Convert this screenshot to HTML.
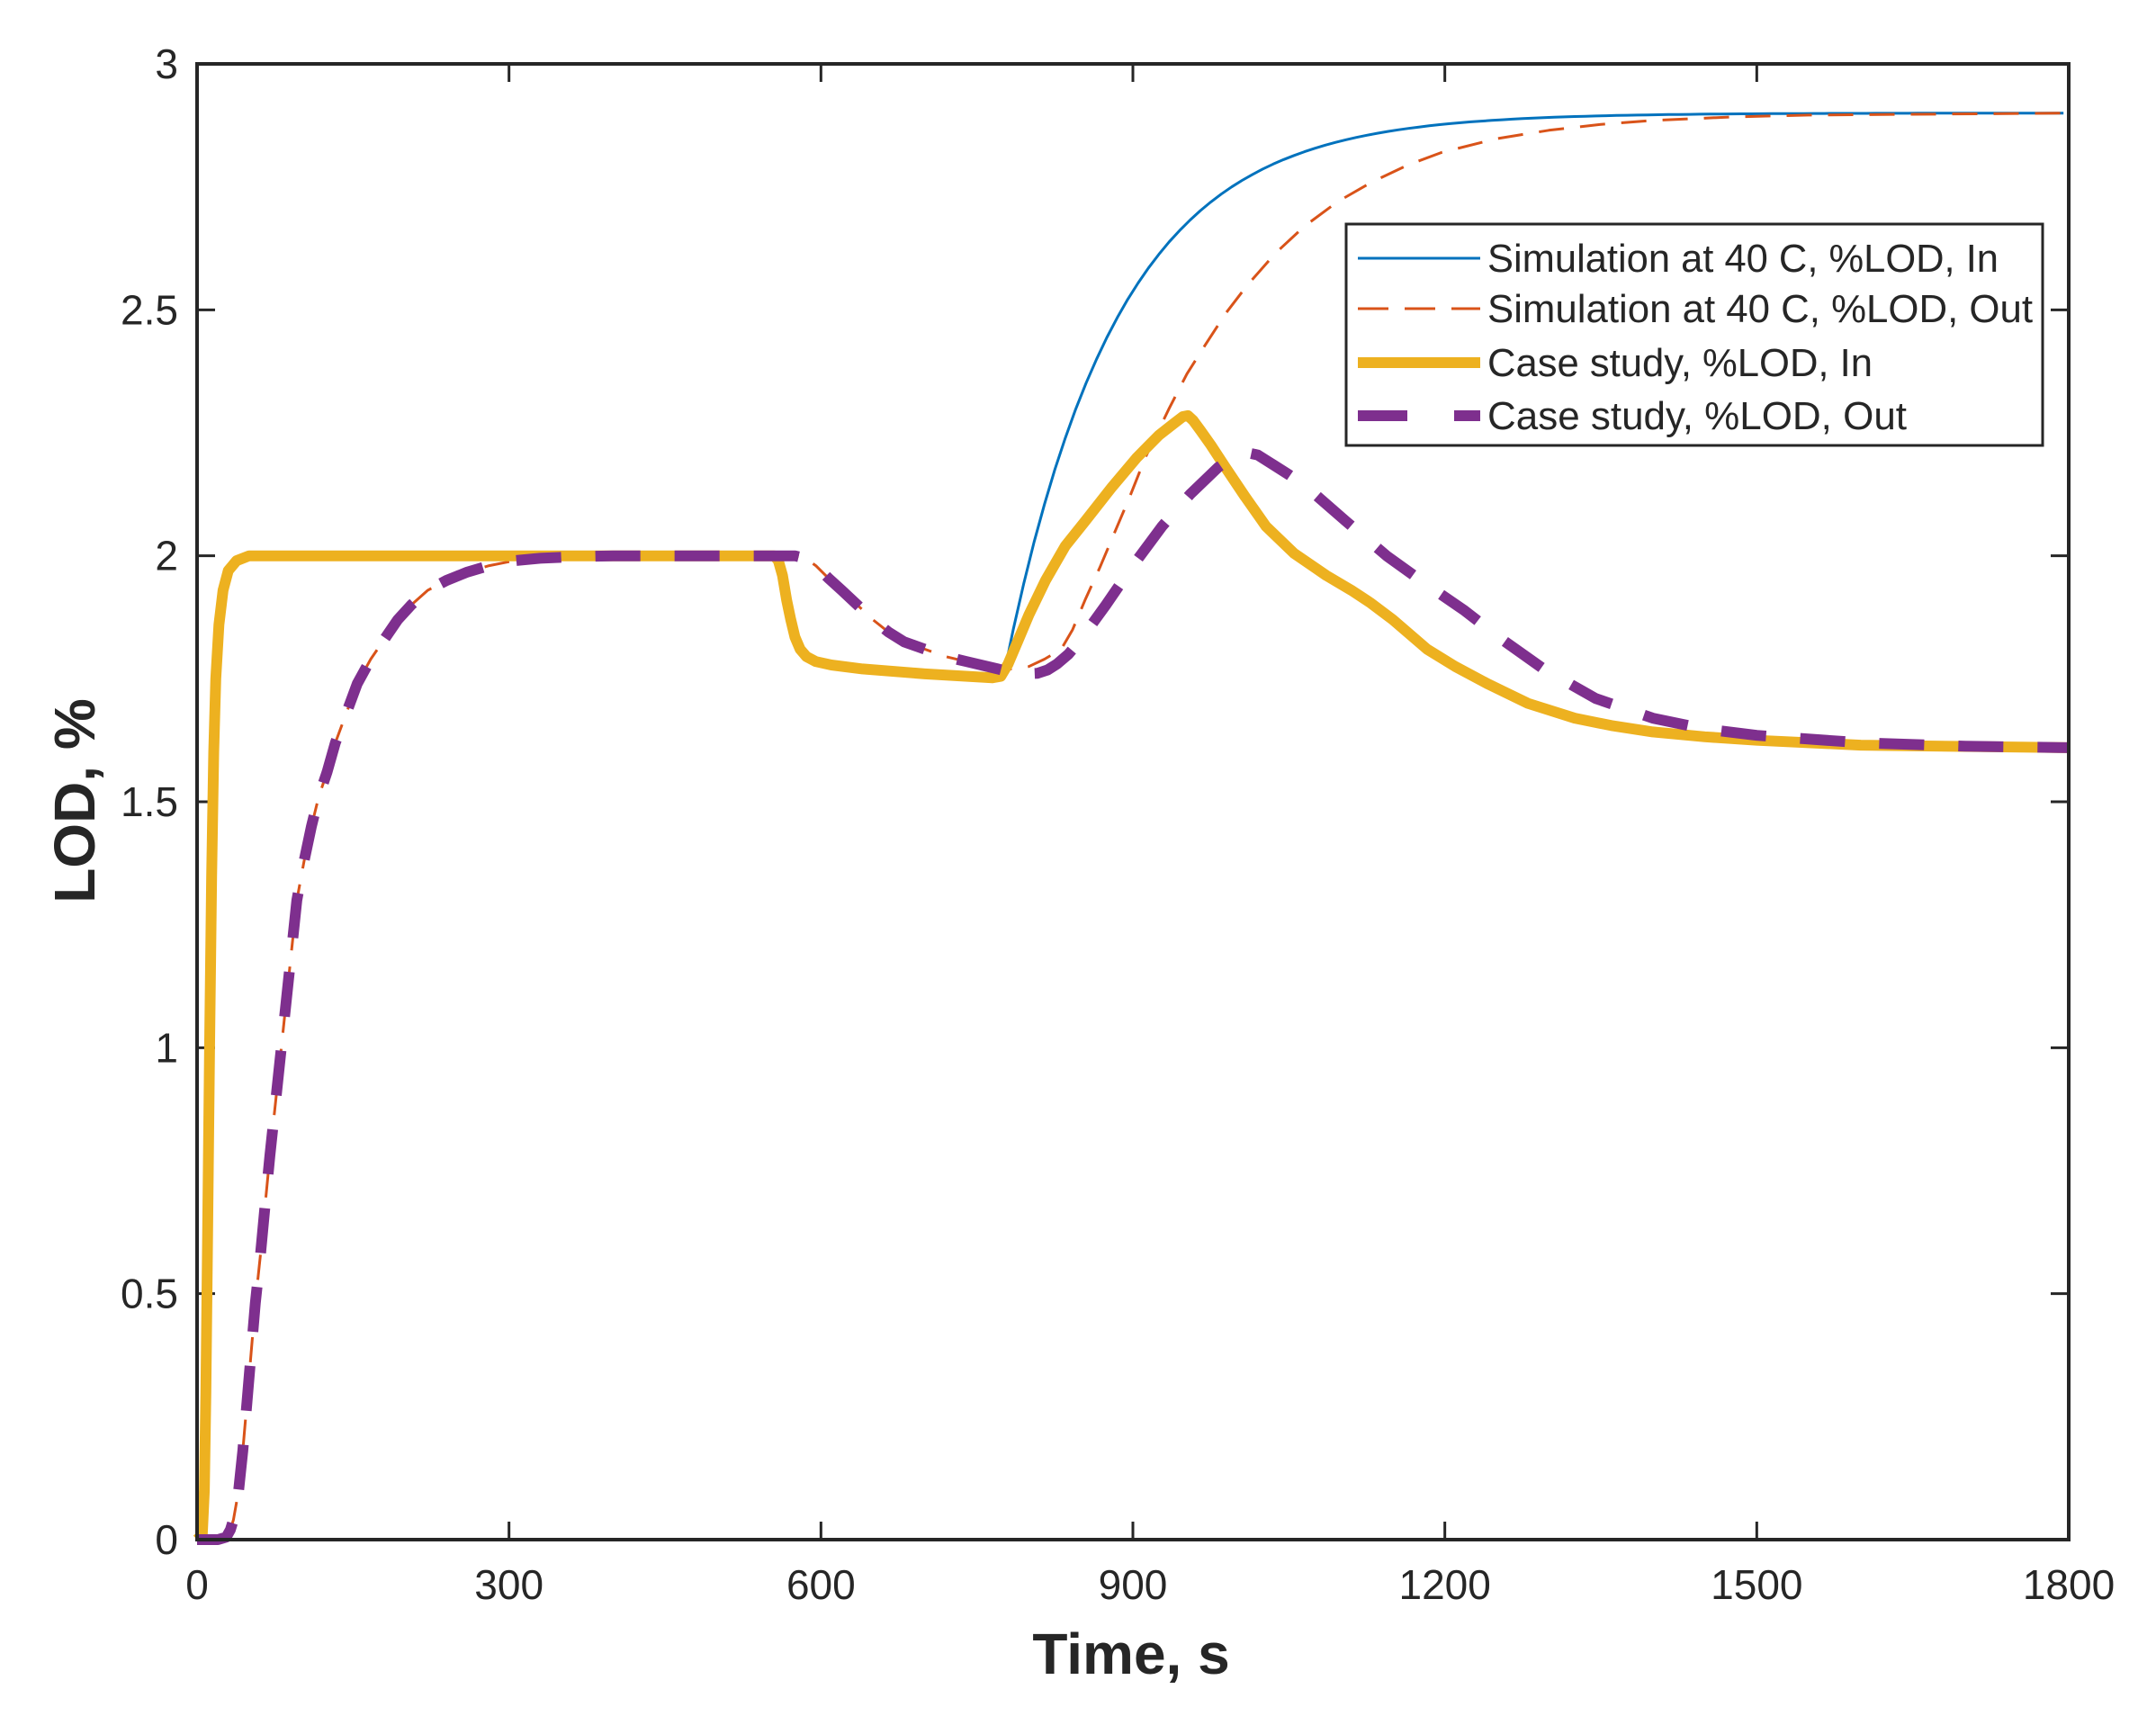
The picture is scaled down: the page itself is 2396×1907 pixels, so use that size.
<!DOCTYPE html>
<html><head><meta charset="utf-8"><style>
html,body{margin:0;padding:0;background:#fff}
svg{display:block}
text{font-family:"Liberation Sans",Arial,sans-serif;fill:#262626}
</style></head><body>
<svg id="s" width="2396" height="1907" viewBox="0 0 2396 1907" xmlns="http://www.w3.org/2000/svg">
<rect width="2396" height="1907" fill="#fff"/>
<g id="ticks" stroke="#262626" stroke-width="3"></g>
<g id="lbl" font-size="46"></g>
<g id="curves" fill="none" stroke-linejoin="round"></g>
<rect x="219" y="71" width="2080" height="1640" fill="none" stroke="#262626" stroke-width="4"/>
<text x="1257" y="1860" font-size="64" font-weight="bold" text-anchor="middle">Time, s</text>
<text transform="translate(105,890) rotate(-90)" font-size="64" font-weight="bold" text-anchor="middle">LOD, %</text>
<g>
<rect x="1496" y="249" width="774" height="246" fill="#fff" stroke="#262626" stroke-width="3"/>
<line x1="1509" y1="287" x2="1645" y2="287" stroke="#0072BD" stroke-width="3"/>
<line x1="1509" y1="343" x2="1645" y2="343" stroke="#D95319" stroke-width="3" stroke-dasharray="34 18"/>
<line x1="1509" y1="403" x2="1645" y2="403" stroke="#EDB120" stroke-width="12"/>
<line x1="1509" y1="462" x2="1645" y2="462" stroke="#7E2F8E" stroke-width="12" stroke-dasharray="55 52"/>
<g font-size="44">
<text x="1653" y="302" textLength="568" lengthAdjust="spacingAndGlyphs">Simulation at 40 C, %LOD, In</text>
<text x="1653" y="358" textLength="606" lengthAdjust="spacingAndGlyphs">Simulation at 40 C, %LOD, Out</text>
<text x="1653" y="418" textLength="428" lengthAdjust="spacingAndGlyphs">Case study, %LOD, In</text>
<text x="1653" y="477" textLength="466" lengthAdjust="spacingAndGlyphs">Case study, %LOD, Out</text>
</g>
</g>
</svg>
<script>
var NS="http://www.w3.org/2000/svg";
function X(t){return 219+t*2080/1800}
function Y(v){return 1711-v*1640/3}
var tk=document.getElementById('ticks'),lb=document.getElementById('lbl');
function el(p,tag,a,txt){var e=document.createElementNS(NS,tag);for(var k in a)e.setAttribute(k,a[k]);if(txt!=null)e.textContent=txt;p.appendChild(e);return e}
for(var t=0;t<=1800;t+=300){var x=X(t);
el(tk,'line',{x1:x,y1:1711,x2:x,y2:1691});el(tk,'line',{x1:x,y1:71,x2:x,y2:91});
el(lb,'text',{x:x,y:1777,'text-anchor':'middle'},String(t));}
var yl=['0','0.5','1','1.5','2','2.5','3'];
for(var i=0;i<7;i++){var y=Y(i*0.5);
el(tk,'line',{x1:219,y1:y,x2:239,y2:y});el(tk,'line',{x1:2299,y1:y,x2:2279,y2:y});
el(lb,'text',{x:198,y:y+16,'text-anchor':'end'},yl[i]);}
function path(pts){
return 'M'+pts.map(function(p){return X(p[0]).toFixed(1)+','+Y(p[1]).toFixed(1)}).join('L');}
var outEarly=[[0,0],[20,0],[28,0.005],[32,0.02],[35,0.04],[40,0.1],[44,0.18],[48,0.28],[52,0.38],[56,0.48],[61,0.58],[65,0.67],[70,0.78],[75,0.88],[79,0.96],[84,1.06],[88,1.14],[92,1.22],[96,1.30],[103,1.38],[110,1.45],[117,1.51],[125,1.56],[133,1.62],[140,1.66],[147,1.70],[154,1.74],[167,1.79],[180,1.83],[193,1.87],[206,1.90],[222,1.93],[240,1.95],[260,1.967],[281,1.98],[305,1.99],[330,1.995],[360,1.998],[400,2.0],[575,2.0],[585,1.995],[595,1.98],[607,1.955],[620,1.93],[635,1.9],[650,1.87],[665,1.845],[680,1.825],[700,1.81],[720,1.795],[740,1.785],[770,1.77]];
var yel=[[0,0],[5,0.01],[7,0.1],[8.5,0.3],[10,0.6],[12,1.0],[14,1.35],[16,1.6],[18,1.75],[21,1.86],[25,1.93],[30,1.97],[38,1.99],[50,2.0],[555,2.0],[559,1.99],[563,1.96],[567,1.91],[571,1.87],[575,1.835],[580,1.81],[586,1.795],[595,1.785],[610,1.778],[640,1.77],[700,1.76],[765,1.752],[773,1.755],[780,1.78],[790,1.83],[800,1.88],[816,1.95],[835,2.02],[854,2.07],[880,2.14],[904,2.20],[925,2.245],[940,2.27],[948,2.283],[953,2.285],[958,2.275],[965,2.255],[975,2.225],[989,2.18],[1008,2.12],[1028,2.06],[1055,2.005],[1086,1.96],[1110,1.93],[1128,1.905],[1150,1.87],[1183,1.81],[1210,1.775],[1241,1.74],[1280,1.70],[1325,1.67],[1360,1.655],[1400,1.642],[1450,1.632],[1500,1.625],[1600,1.615],[1800,1.61]];
var blue=yel.slice(0,30).concat([[777,1.77]]);
for(var t=785;t<=1800;t+=10){blue.push([t,2.9-1.13*Math.exp(-(t-777)/108)])}
var orange=outEarly.concat([[785,1.77],[800,1.775],[815,1.79],[831,1.81],[842,1.85],[854,1.91],[868,1.975],[881,2.04],[897,2.12],[912,2.20],[935,2.30],[952,2.37],[970,2.43],[990,2.495],[1010,2.55],[1037,2.615],[1065,2.67],[1097,2.72],[1130,2.76],[1165,2.795],[1197,2.82],[1250,2.848],[1300,2.865],[1350,2.877],[1400,2.885],[1475,2.892],[1550,2.896],[1800,2.9]]);
var purple=outEarly.concat([[785,1.762],[796,1.76],[808,1.761],[818,1.768],[827,1.78],[838,1.80],[850,1.83],[862,1.865],[874,1.90],[900,1.98],[928,2.06],[955,2.125],[982,2.18],[996,2.2],[1009,2.21],[1020,2.205],[1035,2.185],[1050,2.165],[1067,2.14],[1105,2.07],[1144,2.00],[1180,1.945],[1218,1.89],[1255,1.83],[1295,1.77],[1345,1.71],[1400,1.67],[1450,1.648],[1500,1.635],[1600,1.62],[1700,1.613],[1800,1.61]]);
var cg=document.getElementById('curves');
el(cg,'path',{d:path(blue),stroke:'#0072BD','stroke-width':3});
el(cg,'path',{d:path(orange),stroke:'#D95319','stroke-width':3,'stroke-dasharray':'28 18'});
el(cg,'path',{d:path(yel),stroke:'#EDB120','stroke-width':12});
el(cg,'path',{d:path(purple),stroke:'#7E2F8E','stroke-width':12,'stroke-dasharray':'50 38'});
</script>
</body></html>
